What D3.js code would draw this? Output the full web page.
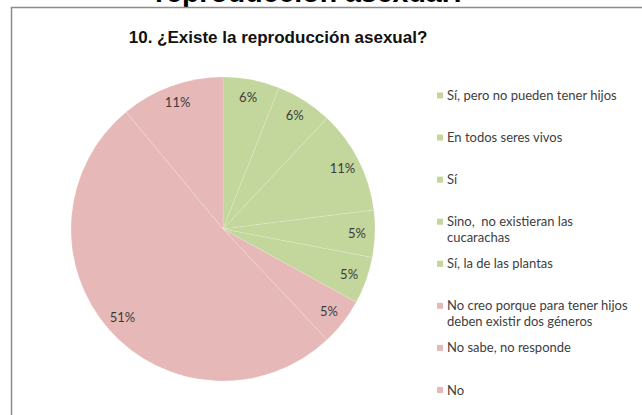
<!DOCTYPE html>
<html>
<head>
<meta charset="utf-8">
<script src="https://cdn.jsdelivr.net/npm/d3@7/dist/d3.min.js"></script>
<style>
  html, body { margin: 0; padding: 0; background: #fff; }
  svg { display: block; }
  text { white-space: pre; }
</style>
</head>
<body>
<svg id="chart" width="642" height="415"></svg>
<script>
// ---- data ----
const categories = [
  "Sí, pero no pueden tener hijos",
  "En todos seres vivos",
  "Sí",
  "Sino,  no existieran las cucarachas",
  "Sí, la de las plantas",
  "No creo porque para tener hijos deben existir dos géneros",
  "No sabe, no responde",
  "No"
];
const legendLines = [
  ["Sí, pero no pueden tener hijos"],
  ["En todos seres vivos"],
  ["Sí"],
  ["Sino,  no existieran las", "cucarachas"],
  ["Sí, la de las plantas"],
  ["No creo porque para tener hijos", "deben existir dos géneros"],
  ["No sabe, no responde"],
  ["No"]
];
const values = [6, 6, 11, 5, 5, 5, 51, 11];
const answerType = ["si", "si", "si", "si", "si", "no", "no", "no"];
const pageTitle = "reproducción asexual?";
const chartTitle = "10. ¿Existe la reproducción asexual?";

// ---- drawing ----
const svg = d3.select("#chart");
const color = d3.scaleOrdinal().domain(["si", "no"]).range(["#c3d69b", "#e6b9b8"]);

// clipped slide title at very top
svg.append("text")
  .attr("x", 311).attr("y", 1.5)
  .attr("text-anchor", "middle")
  .style("font-family", "'Liberation Sans', Arial, sans-serif")
  .style("font-weight", "bold")
  .style("font-size", "28.5px")
  .attr("fill", "#000")
  .text(pageTitle);

// chart frame
svg.append("rect")
  .attr("x", 11.5).attr("y", 7.5)
  .attr("width", 700).attr("height", 500)
  .attr("fill", "#fff")
  .attr("stroke", "#8c8c8c")
  .attr("stroke-width", 1.5);

// chart title
svg.append("text")
  .attr("x", 278).attr("y", 43)
  .attr("text-anchor", "middle")
  .style("font-family", "'Liberation Sans', Arial, sans-serif")
  .style("font-weight", "bold")
  .style("font-size", "17px")
  .attr("fill", "#111")
  .text(chartTitle);

const data = categories.map((c, i) => ({ cat: c, value: values[i], type: answerType[i] }));

const cx = 223, cy = 229, r = 152;
const pie = d3.pie().value(d => d.value).sort(null);
const arcs = pie(data);
const arc = d3.arc().innerRadius(0).outerRadius(r);
const labelArc = d3.arc().innerRadius(134).outerRadius(134);

const g = svg.append("g").attr("transform", `translate(${cx},${cy})`);
g.selectAll("path.slice")
  .data(arcs)
  .join("path")
  .attr("class", "slice")
  .attr("d", arc)
  .attr("fill", d => color(d.data.type))
  .attr("stroke", "rgba(255,255,255,0.2)")
  .attr("stroke-width", 0.8);

g.selectAll("text.lbl")
  .data(arcs)
  .join("text")
  .attr("class", "lbl")
  .attr("transform", d => `translate(${labelArc.centroid(d)})`)
  .attr("text-anchor", "middle")
  .attr("dy", "0.35em")
  .style("font-family", "Lato, 'Open Sans', sans-serif")
  .style("font-size", "13px")
  .attr("fill", "#3b3b3b")
  .text(d => d3.format(".0f")(d.data.value) + "%");

// legend
const ly = d3.scalePoint().domain(d3.range(categories.length)).range([95.5, 390]);
const leg = svg.append("g");
const items = leg.selectAll("g.item")
  .data(data)
  .join("g")
  .attr("class", "item")
  .attr("transform", (d, i) => `translate(437, ${ly(i)})`);
items.append("rect")
  .attr("x", 0).attr("y", -3)
  .attr("width", 6).attr("height", 6)
  .attr("fill", d => color(d.type));
items.each(function (d, i) {
  const t = d3.select(this).append("text")
    .attr("x", 10).attr("y", 0)
    .style("font-family", "Lato, 'Open Sans', sans-serif")
    .style("font-size", "13px")
    .attr("fill", "#404040");
  legendLines[i].forEach((line, k) => {
    t.append("tspan").attr("x", 10).attr("dy", k === 0 ? "0.35em" : "15.5px").text(line);
  });
});
</script>
</body>
</html>
